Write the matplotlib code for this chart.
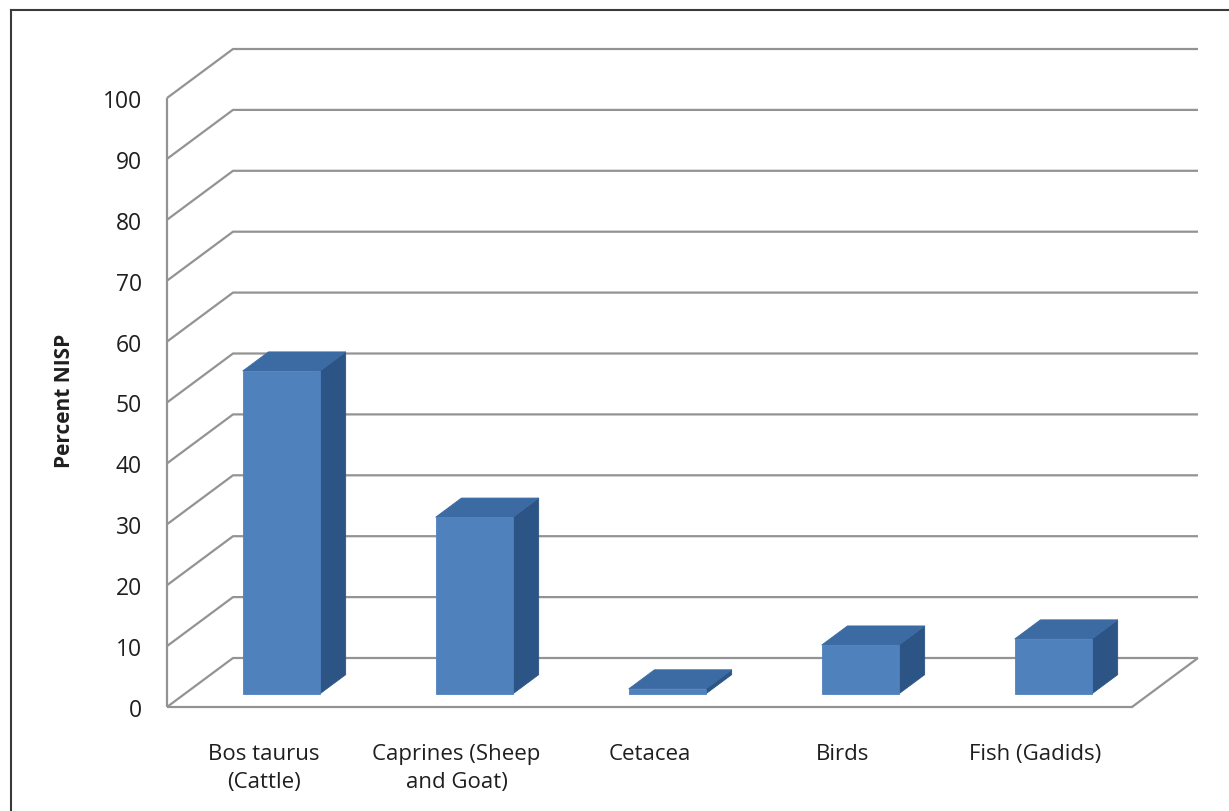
"""Percent NISP by taxon, drawn as an Excel-style 3-D column chart."""

import matplotlib.pyplot as plt
from matplotlib.lines import Line2D
from matplotlib.patches import Polygon

categories = [
    "Bos taurus\n(Cattle)",
    "Caprines (Sheep\nand Goat)",
    "Cetacea",
    "Birds",
    "Fish (Gadids)",
]
percent_nisp = [53, 29, 0.8, 8, 9]
y_ticks = list(range(0, 101, 10))

FRONT = "#4F81BD"
TOP = "#3C6BA4"
SIDE = "#2C5585"
GRID = "#939393"
TEXT = "#1f1f1f"

# Pixel size of the full depth of the plot box (right, up)
DEPTH_PX = (66, 49)
BAR_FRONT = 0.27    # depth of the bar front faces (fraction of box depth)
BAR_DEPTH = 0.39    # bar thickness along depth
BAR_WIDTH = 0.40    # fraction of one category slot

plt.rcParams["font.family"] = ["Open Sans", "DejaVu Sans"]

W, H = 1229, 812
fig = plt.figure(figsize=(W / 100, H / 100), dpi=100)
x0, x1, y0, y1 = 167, 1132, 708, 99
ax = fig.add_axes([x0 / W, 1 - y0 / H, (x1 - x0) / W, (y0 - y1) / H])
ax.set_xlim(0, len(categories))
ax.set_ylim(0, 100)
for s in ax.spines.values():
    s.set_visible(False)

# data units per pixel, used to push points back in depth
kx = DEPTH_PX[0] * len(categories) / (x1 - x0)
ky = DEPTH_PX[1] * 100 / (y0 - y1)


def proj(x, y, d):
    return (x + d * kx, y + d * ky)


line_kw = dict(color=GRID, lw=1.6, clip_on=False, zorder=1,
               solid_capstyle="butt")
n = len(categories)

# back wall gridlines with their diagonal on the side wall
for v in y_ticks:
    pts = [proj(0, v, 0), proj(0, v, 1), proj(n, v, 1)]
    ax.plot(*zip(*pts), **line_kw)

# left wall edge and floor outline
ax.plot([0, 0], [0, 100], **line_kw)
floor = [proj(0, 0, 0), proj(n, 0, 0), proj(n, 0, 1)]
ax.plot(*zip(*floor), **line_kw)

# columns
for i, v in enumerate(percent_nisp):
    left = i + 0.5 - BAR_WIDTH / 2
    right = i + 0.5 + BAR_WIDTH / 2
    df, db = BAR_FRONT, BAR_FRONT + BAR_DEPTH
    front = [proj(left, 0, df), proj(right, 0, df),
             proj(right, v, df), proj(left, v, df)]
    top = [proj(left, v, df), proj(right, v, df),
           proj(right, v, db), proj(left, v, db)]
    side = [proj(right, 0, df), proj(right, 0, db),
            proj(right, v, db), proj(right, v, df)]
    for poly, c in ((side, SIDE), (top, TOP), (front, FRONT)):
        ax.add_patch(Polygon(poly, closed=True, facecolor=c, edgecolor=c,
                             lw=0.6, clip_on=False, zorder=3))

ax.set_yticks(y_ticks)
ax.set_yticklabels([str(t) for t in y_ticks], fontsize=16.5, color=TEXT)
ax.set_xticks([i + 0.5 for i in range(n)])
ax.set_xticklabels(categories, fontsize=16, color=TEXT)
for lab in ax.get_xticklabels():
    lab.set_linespacing(1.45)
ax.tick_params(axis="y", length=0, pad=18)
ax.tick_params(axis="x", length=0, pad=26)

fig.text(65 / W, 1 - 401 / H, "Percent NISP", rotation=90, fontsize=15,
         fontweight="bold", ha="center", va="center", color=TEXT)

# outer chart frame (left and top edges)
fig.add_artist(Line2D([11 / W, 11 / W], [0, 1 - 11 / H],
                      transform=fig.transFigure, color="#3a3a3a", lw=1.5))
fig.add_artist(Line2D([11 / W, 1], [1 - 11 / H, 1 - 11 / H],
                      transform=fig.transFigure, color="#3a3a3a", lw=1.5))

fig.savefig("out.png", dpi=100, facecolor="white")
